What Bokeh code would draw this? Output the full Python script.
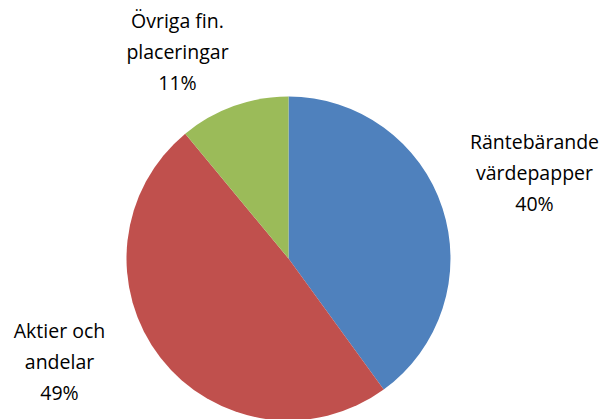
import math
from bokeh.plotting import figure
from bokeh.models import Range1d, ColumnDataSource
from bokeh.core.properties import value
from bokeh.embed import file_html
from bokeh.resources import INLINE

# Data
categories = ["Räntebärande\nvärdepapper", "Aktier och\nandelar", "Övriga fin.\nplaceringar"]
shares = [40, 49, 11]
colors = ["#4F81BD", "#C0504D", "#9BBB59"]

# Layout (picture pixel coordinates, y downward)
W, H = 602, 419
cx, cy, r = 288, 258, 162
label_pos = [(534, 141), (59, 330), (177, 20)]
line_gap = 31

total = sum(shares)
starts, ends = [], []
a = math.pi / 2
for s in shares:
    starts.append(a)
    a -= 2 * math.pi * s / total
    ends.append(a)

p = figure(width=W, height=H, output_backend="svg", toolbar_location=None,
           x_range=Range1d(0, W), y_range=Range1d(-H, 0),
           min_border=0, outline_line_color=None)
p.axis.visible = False
p.grid.visible = False
p.background_fill_color = "white"
p.border_fill_color = "white"

src = ColumnDataSource(dict(x=[cx] * 3, y=[-cy] * 3, start=starts, end=ends, color=colors))
p.wedge(x="x", y="y", radius=r, start_angle="start", end_angle="end", direction="clock",
        fill_color="color", line_color=None, source=src)

xs, ys, texts = [], [], []
for (lx, ly), c, s in zip(label_pos, categories, shares):
    lines = c.split("\n") + [f"{s}%"]
    for i, t in enumerate(lines):
        xs.append(lx)
        ys.append(-(ly + i * line_gap))
        texts.append(t)
lsrc = ColumnDataSource(dict(x=xs, y=ys, text=texts))
p.text(x="x", y="y", text="text", source=lsrc, text_align="center", text_baseline="middle",
       text_font=value("Open Sans"), text_font_size="19.5px", text_color="#000000")

open("out.html", "w").write(file_html(p, INLINE))
